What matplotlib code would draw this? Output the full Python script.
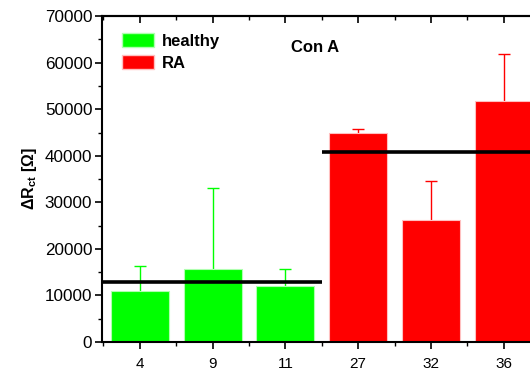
import matplotlib
matplotlib.use("Agg")
import matplotlib.pyplot as plt
from matplotlib.patches import Patch
from matplotlib.ticker import MultipleLocator

plt.rcParams['font.family'] = ['Liberation Sans', 'DejaVu Sans']
plt.rcParams['mathtext.fontset'] = 'custom'
plt.rcParams['mathtext.rm'] = 'Liberation Sans'
plt.rcParams['mathtext.bf'] = 'Liberation Sans:bold'
plt.rcParams['mathtext.it'] = 'Liberation Sans:italic'

categories = ['4', '9', '11', '27', '32', '36']
groups = ['healthy', 'healthy', 'healthy', 'RA', 'RA', 'RA']
values = [11000, 15700, 12000, 44900, 26200, 51700]
errors = [5300, 17300, 3700, 800, 8400, 10100]
group_means = {'healthy': 12900, 'RA': 40900}
colors = {'healthy': '#00ff00', 'RA': '#ff0000'}
edge_colors = {'healthy': '#b0ffb0', 'RA': '#ffc0c0'}

fig = plt.figure(figsize=(5.3, 3.75), dpi=100)
ax = fig.add_axes([0.1925, 0.088, 1.019 - 0.1925, 0.957 - 0.088])

x = list(range(len(categories)))
for xi, v, e, g in zip(x, values, errors, groups):
    ax.bar(xi, v, width=0.8, color=colors[g], edgecolor=edge_colors[g], linewidth=0.8, zorder=2)
    eb = ax.errorbar(xi, v, yerr=[[0], [e]], fmt='none', ecolor=colors[g], elinewidth=1.0,
                     capsize=4, capthick=1.0, zorder=1)
    eb[1][0].set_visible(False)

ax.plot([-0.52, 2.5], [group_means['healthy']] * 2, color='black', lw=2.6, zorder=4, solid_capstyle='butt')
ax.plot([2.5, 5.6], [group_means['RA']] * 2, color='black', lw=2.6, zorder=4, solid_capstyle='butt')

ax.set_xlim(-0.52, 5.5)
ax.set_ylim(0, 70000)
ax.set_xticks(x)
ax.set_xticklabels(categories, fontsize=11)
ax.xaxis.set_minor_locator(MultipleLocator(0.5))
ax.yaxis.set_major_locator(MultipleLocator(10000))
ax.yaxis.set_minor_locator(MultipleLocator(5000))
ax.tick_params(axis='y', which='major', labelsize=12.3, direction='out', length=5, width=1.2, pad=2)
ax.tick_params(axis='y', which='minor', direction='out', length=3, width=1.0)
ax.tick_params(axis='x', which='major', direction='out', length=5, width=1.2, pad=6)
ax.tick_params(axis='x', which='minor', direction='out', length=3, width=1.0)

top = ax.secondary_xaxis('top')
top.set_xticks(x)
top.xaxis.set_minor_locator(MultipleLocator(0.5))
top.tick_params(axis='x', which='major', direction='in', length=5, width=1.2, labeltop=False)
top.tick_params(axis='x', which='minor', direction='in', length=3, width=1.0)
top.spines['top'].set_linewidth(1.5)

for sp in ax.spines.values():
    sp.set_linewidth(1.5)

ax.set_ylabel(r'$\mathbf{\Delta R_{ct}}$ [Ω]', fontsize=11.5, fontweight='bold', labelpad=4)

ax.text(2.41, 63300, 'Con A', fontsize=12, fontweight='bold', ha='center', va='center')

handles = [Patch(facecolor=colors['healthy'], edgecolor=edge_colors['healthy']),
           Patch(facecolor=colors['RA'], edgecolor=edge_colors['RA'])]
leg = ax.legend(handles, ['healthy', 'RA'], loc='upper left', bbox_to_anchor=(0.045, 0.948),
                frameon=False, prop={'weight': 'bold', 'size': 12},
                handlelength=1.95, handleheight=0.9, handletextpad=0.45, labelspacing=0.4,
                borderaxespad=0, borderpad=0)

fig.savefig('out.png', dpi=100)
